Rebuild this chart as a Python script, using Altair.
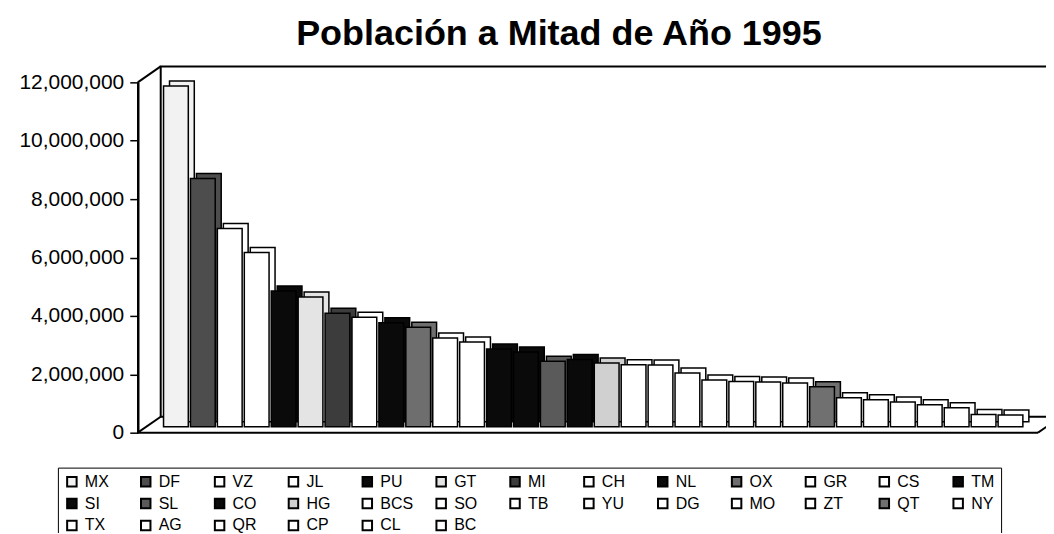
import altair as alt
import pandas as pd

# --- data ---
states = ["MX", "DF", "VZ", "JL", "PU", "GT", "MI", "CH", "NL", "OX", "GR", "CS", "TM",
          "SI", "SL", "CO", "HG", "BCS", "SO", "TB", "YU", "DG", "MO", "ZT", "QT", "NY",
          "TX", "AG", "QR", "CP", "CL", "BC"]
population = [11670000, 8500000, 6790000, 5970000, 4650000, 4440000, 3890000, 3750000,
              3560000, 3410000, 3040000, 2900000, 2660000, 2560000, 2240000, 2300000,
              2180000, 2120000, 2110000, 1840000, 1600000, 1550000, 1530000, 1500000,
              1370000, 990000, 920000, 850000, 750000, 650000, 420000, 400000]
fills = ["#f2f2f2", "#4d4d4d", "#ffffff", "#ffffff", "#0a0a0a", "#e4e4e4", "#3c3c3c",
         "#ffffff", "#0a0a0a", "#6e6e6e", "#ffffff", "#ffffff", "#0a0a0a", "#0a0a0a",
         "#5a5a5a", "#0a0a0a", "#d0d0d0", "#ffffff", "#ffffff", "#ffffff", "#ffffff",
         "#ffffff", "#ffffff", "#ffffff", "#707070", "#ffffff", "#ffffff", "#ffffff",
         "#ffffff", "#ffffff", "#ffffff", "#ffffff"]
y_ticks = [0, 2000000, 4000000, 6000000, 8000000, 10000000, 12000000]
title_text = "Población a Mitad de Año 1995"

df = pd.DataFrame({"estado": states, "poblacion": population})
one = pd.DataFrame({"k": [0]})

W, H = 902, 351
DX, DY = 23, 16      # depth of the 3-D walls
FONT = "Liberation Sans"

color = alt.Color(
    "estado:N", sort=states,
    scale=alt.Scale(domain=states, range=fills),
    legend=alt.Legend(
        title=None, orient="none", legendX=-80, legendY=386, direction="horizontal",
        columns=13, symbolLimit=0, symbolType="square", symbolSize=90,
        symbolStrokeColor="black", symbolStrokeWidth=2, labelFont=FONT,
        labelFontSize=16, labelColor="black", labelOffset=5, columnPadding=19,
        rowPadding=4, gridAlign="all", strokeColor="black", padding=6,
    ),
)
x = alt.X("estado:N", sort=states, axis=None,
          scale=alt.Scale(paddingInner=0.08, paddingOuter=0.76, align=0.63))
y = alt.Y("poblacion:Q",
          scale=alt.Scale(domain=[0, 12000000], nice=False),
          axis=alt.Axis(values=y_ticks, format=",d", title=None, grid=False,
                        labelFont=FONT, labelFontSize=21, labelColor="black",
                        tickColor="black", tickSize=8, tickWidth=1.5, labelPadding=6,
                        domainColor="black", domainWidth=2.5))

wall = alt.Chart(one).mark_rect(
    fill="white", stroke="black", strokeWidth=2, yOffset=-DY, y2Offset=-DY
).encode(x=alt.value(DX), x2=alt.value(W + DX + 40),
         y=alt.datum(12000000), y2=alt.datum(0))

top_diag = alt.Chart(one).mark_rule(color="black", strokeWidth=2, y2Offset=-DY).encode(
    x=alt.value(0), x2=alt.value(DX), y=alt.datum(12000000), y2=alt.datum(12000000))
bot_diag = alt.Chart(one).mark_rule(color="black", strokeWidth=2, y2Offset=-DY).encode(
    x=alt.value(0), x2=alt.value(DX), y=alt.datum(0), y2=alt.datum(0))
floor_front = alt.Chart(one).mark_rule(color="black", strokeWidth=2).encode(
    x=alt.value(0), x2=alt.value(W), y=alt.datum(0))
floor_right = alt.Chart(one).mark_rule(color="black", strokeWidth=2, y2Offset=-DY).encode(
    x=alt.value(W), x2=alt.value(W + DX), y=alt.datum(0), y2=alt.datum(0))

back = alt.Chart(df).mark_bar(
    stroke="black", strokeWidth=1.5, xOffset=6, yOffset=-11, y2Offset=-11
).encode(x=x, y=y, color=color)
front = alt.Chart(df).mark_bar(
    stroke="black", strokeWidth=1.5, yOffset=-6, y2Offset=-6
).encode(x=x, y=y, color=color)

chart = alt.layer(wall, top_diag, bot_diag, floor_front, floor_right, back, front).properties(
    width=W, height=H,
    title=alt.TitleParams(title_text, font=FONT, fontSize=36, fontWeight="bold",
                          color="black", anchor="middle", frame="group", dx=-29, offset=12),
    padding={"left": 130, "top": 74, "right": 8, "bottom": 100},
    autosize=alt.AutoSizeParams(type="none"),
    background="white",
).configure_view(strokeWidth=0)

chart.save("out.html", embed_options={"renderer": "svg", "actions": False})
